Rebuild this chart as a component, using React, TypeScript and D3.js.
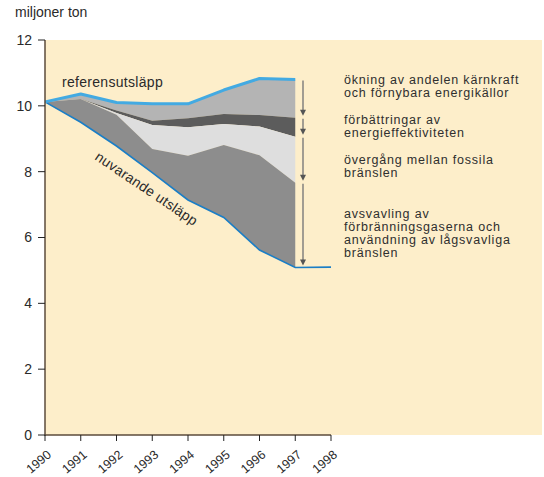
import React from "react";
import * as d3 from "d3";

const years = [1990, 1991, 1992, 1993, 1994, 1995, 1996, 1997];
const tickYears = [1990, 1991, 1992, 1993, 1994, 1995, 1996, 1997, 1998];
const yTicks = [0, 2, 4, 6, 8, 10, 12];

// reference emissions (top blue line)
const referens = [10.12, 10.36, 10.1, 10.06, 10.06, 10.48, 10.83, 10.8];
// band boundaries
const boundaryA = [10.12, 10.21, 9.86, 9.55, 9.62, 9.75, 9.72, 9.64];
const boundaryB = [10.12, 10.21, 9.78, 9.42, 9.35, 9.45, 9.37, 9.06];
const boundaryC = [10.12, 10.21, 9.73, 8.69, 8.48, 8.81, 8.5, 7.66];
// current emissions (bottom blue line), incl. 1998
const nuvarandeYears = [1990, 1991, 1992, 1993, 1994, 1995, 1996, 1997, 1998];
const nuvarande = [10.12, 9.5, 8.78, 7.97, 7.14, 6.61, 5.62, 5.09, 5.1];

const bandColors = ["#b4b4b4", "#5c5c5c", "#dedede", "#8d8d8d"];

const annotationGroups = [
  ["ökning av andelen kärnkraft", "och förnybara energikällor"],
  ["förbättringar av", "energieffektiviteten"],
  ["övergång mellan fossila", "bränslen"],
  ["avsvavling av", "förbränningsgaserna och", "användning av lågsvavliga", "bränslen"],
];
const annotationTops = [84, 124, 163.5, 217.5];

export default function App() {
  const W = 544, H = 477;
  const x = d3.scaleLinear().domain([1990, 1998]).range([45, 331]);
  const y = d3.scaleLinear().domain([0, 12]).range([435, 40]);
  const font = "'Liberation Sans', Arial, sans-serif";

  const bounds = [referens, boundaryA, boundaryB, boundaryC];
  const bottoms = [boundaryA, boundaryB, boundaryC, nuvarande.slice(0, years.length)];
  const areas = bounds.map((top, i) => {
    const bot = bottoms[i];
    const gen = d3
      .area<number>()
      .x((_, j) => x(years[j]))
      .y0((_, j) => y(bot[j]))
      .y1((_, j) => y(top[j]));
    return gen(years.map((_, j) => j)) || "";
  });

  const refLine = d3
    .line<number>()
    .x((_, j) => x(years[j]))
    .y((d) => y(d))(referens) || "";
  const nuvLine = d3
    .line<number>()
    .x((_, j) => x(nuvarandeYears[j]))
    .y((d) => y(d))(nuvarande) || "";

  // arrows
  const last = years.length - 1;
  const stops = [referens[last], boundaryA[last], boundaryB[last], boundaryC[last], nuvarande[last]];
  const ax = 303;
  const arrows = stops.slice(1).map((v, i) => {
    const y0 = y(stops[i]) + 1;
    const tip = y(v) - 2;
    return { y0, tip };
  });

  return (
    <svg width={W} height={H} style={{ display: "block", position: "absolute", left: 0, top: 0 }}>
      <rect x={0} y={0} width={W} height={H} fill="#ffffff" />
      <rect x={x(1990)} y={y(12)} width={542 - x(1990)} height={y(0) - y(12)} fill="#fdeeca" />
      {areas.map((d, i) => (
        <path key={i} d={d} fill={bandColors[i]} />
      ))}
      <path d={nuvLine} fill="none" stroke="#1b7ec6" strokeWidth={1.6} />
      <path d={refLine} fill="none" stroke="#43aae2" strokeWidth={3} strokeLinejoin="round" />

      {arrows.map((a, i) => (
        <g key={i}>
          <line x1={ax} x2={ax} y1={a.y0} y2={a.tip - 3} stroke="#7a7a7a" strokeWidth={1.4} />
          <path d={`M${ax - 3},${a.tip - 6} L${ax + 3},${a.tip - 6} L${ax},${a.tip} Z`} fill="#555" />
        </g>
      ))}

      {/* axes */}
      <line x1={x(1990)} x2={x(1990)} y1={y(12)} y2={y(0) + 1} stroke="#5b4b3b" strokeWidth={1.5} />
      <line x1={x(1990)} x2={x(1998)} y1={y(0)} y2={y(0)} stroke="#5b4b3b" strokeWidth={1.5} />
      {yTicks.map((t) => (
        <g key={t}>
          <line x1={x(1990) - 7} x2={x(1990)} y1={y(t)} y2={y(t)} stroke="#222" strokeWidth={1} />
          <text x={32} y={y(t)} dy="0.35em" textAnchor="end" fontSize={14} fill="#2a2a2a" fontFamily={font}>
            {t}
          </text>
        </g>
      ))}
      {tickYears.map((t) => (
        <g key={t}>
          <line x1={x(t)} x2={x(t)} y1={y(0)} y2={y(0) + 6} stroke="#222" strokeWidth={1} />
          <text
            transform={`translate(${x(t) + 7},${y(0) + 21}) rotate(-40)`}
            textAnchor="end"
            fontSize={12.5}
            fill="#2a2a2a"
            fontFamily={font}
          >
            {t}
          </text>
        </g>
      ))}

      <text x={15} y={17} fontSize={14} fill="#2a2a2a" fontFamily={font}>
        miljoner ton
      </text>
      <text x={62} y={87} fontSize={14} fill="#2a2a2a" fontFamily={font} letterSpacing={0.3}>
        referensutsläpp
      </text>
      <text
        transform={`translate(94,159) rotate(34)`}
        fontSize={14}
        fill="#2a2a2a"
        fontFamily={font}
        letterSpacing={0.3}
      >
        nuvarande utsläpp
      </text>

      {annotationGroups.map((g, gi) => (
        <text key={gi} fontSize={12.5} fill="#2f2f2f" fontFamily={font} letterSpacing={0.8}>
          {g.map((line, li) => (
            <tspan key={li} x={344} y={annotationTops[gi] + li * 13}>
              {line}
            </tspan>
          ))}
        </text>
      ))}
    </svg>
  );
}
